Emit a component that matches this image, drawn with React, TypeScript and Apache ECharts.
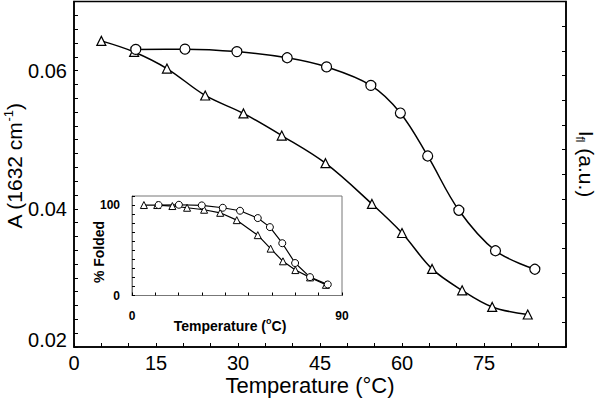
import React, { useEffect, useRef } from 'react';
import * as echarts from 'echarts';

// Main plot: triangles = absorbance (left axis), circles = fluorescence intensity (right axis)
const triTemp = [5, 11, 17, 24, 31, 38, 46, 54.5, 60, 65.5, 71, 76.5, 83];
const triAbs = [0.0643, 0.0627, 0.0603, 0.0564, 0.0538, 0.0506, 0.0466, 0.0407, 0.0365, 0.0313, 0.0282, 0.0258, 0.0247];
const circTemp = [11.3, 20.3, 29.8, 39, 46.2, 54.3, 59.7, 64.7, 70.4, 77.1, 84.3];
const circFl = [12.06, 12.07, 11.97, 11.72, 11.35, 10.6, 9.48, 7.74, 5.54, 3.9, 3.15];

// Inset: % folded
const insetTriTemp = [5.1, 10.8, 17.3, 23.6, 30.9, 37.8, 44.9, 53.9, 59.4, 64.7, 70, 76.3, 83.1];
const insetTriFolded = [100, 100, 98.9, 97, 94.8, 91.4, 83.3, 66.7, 51.8, 37.8, 28.1, 20, 11.8];
const insetCircTemp = [11.4, 20.1, 29.9, 38.9, 46.3, 53.9, 59.1, 64.4, 69.9, 76.3, 83.9];
const insetCircFolded = [100, 100.3, 99.6, 97, 93.7, 85.6, 75.6, 57.8, 35.9, 20.3, 12.2];

const mainXTickLabels = [0, 15, 30, 45, 60, 75];
const mainYTickLabels = [0.02, 0.04, 0.06];
const insetXTickLabels = [0, 90];
const insetYTickLabels = [0, 100];

const FONT = '"Liberation Sans", Arial, Helvetica, sans-serif';

const zip = (xs: number[], ys: number[]) => xs.map((x, i) => [x, ys[i]]);
const near = (v: number, list: number[]) => list.some((t) => Math.abs(v - t) < 1e-7);

export default function App() {
  const ref = useRef<HTMLDivElement>(null);

  useEffect(() => {
    if (!ref.current) return;
    const chart = echarts.init(ref.current, null, { renderer: 'svg' });

    const markerStyle = { color: '#fff', borderColor: '#000', borderWidth: 1.2 };

    chart.setOption({
      animation: false,
      backgroundColor: '#fff',
      grid: [
        { left: 74, right: 34, top: 1.5, bottom: 53, show: true, borderColor: '#000', borderWidth: 1.5, backgroundColor: 'transparent' },
        { left: 132, right: 258, top: 196, bottom: 104.5, show: true, borderColor: '#777', borderWidth: 1, backgroundColor: '#fff', z: 3 },
      ],
      xAxis: [
        {
          gridIndex: 0, type: 'value', min: 0, max: 90, interval: 5,
          axisLine: { lineStyle: { color: '#000', width: 1.5 } },
          axisTick: { inside: true, length: 4, lineStyle: { color: '#000', width: 1 } },
          axisLabel: {
            formatter: (v: number) => (near(v, mainXTickLabels) ? String(v) : ''),
            fontSize: 20, color: '#000', margin: 6, fontFamily: FONT,
          },
          splitLine: { show: false },
        },
        {
          gridIndex: 1, type: 'value', min: 0, max: 90, interval: 10, z: 4,
          axisLine: { lineStyle: { color: '#777', width: 1 } },
          axisTick: { inside: true, length: 3, lineStyle: { color: '#000', width: 1 } },
          axisLabel: {
            formatter: (v: number) => (near(v, insetXTickLabels) ? String(v) : ''),
            fontSize: 12, fontWeight: 'bold', color: '#000', margin: 14, fontFamily: FONT,
            showMinLabel: true, showMaxLabel: true,
          },
          splitLine: { show: false },
        },
      ],
      yAxis: [
        {
          gridIndex: 0, type: 'value', min: 0.02, max: 0.07, interval: 0.002, position: 'left',
          axisLine: { show: true, lineStyle: { color: '#000', width: 1.5 } },
          axisTick: { inside: true, length: 4, lineStyle: { color: '#000', width: 1 } },
          axisLabel: {
            formatter: (v: number) => {
              if (!near(v, mainYTickLabels)) return '';
              const s = v.toFixed(2);
              return Math.abs(v - 0.02) < 1e-7 ? '{low|' + s + '}' : s;
            },
            fontSize: 20, color: '#000', margin: 7, fontFamily: FONT,
            rich: { low: { fontSize: 20, color: '#000', fontFamily: FONT, padding: [0, 0, 14, 0] } },
          },
          splitLine: { show: false },
        },
        {
          gridIndex: 0, type: 'value', min: 0, max: 14, interval: 1, position: 'right',
          axisLine: { show: true, lineStyle: { color: '#000', width: 1.5 } },
          axisTick: { inside: true, length: 4, lineStyle: { color: '#000', width: 1 } },
          axisLabel: { show: false },
          splitLine: { show: false },
        },
        {
          gridIndex: 1, type: 'value', min: 0, max: 110, interval: 10, z: 4,
          axisLine: { show: true, lineStyle: { color: '#777', width: 1 } },
          axisTick: { inside: true, length: 3, lineStyle: { color: '#000', width: 1 } },
          axisLabel: {
            formatter: (v: number) => (near(v, insetYTickLabels) ? String(v) : ''),
            fontSize: 12, fontWeight: 'bold', color: '#000', margin: 12, fontFamily: FONT,
          },
          splitLine: { show: false },
        },
      ],
      series: [
        {
          type: 'line', xAxisIndex: 0, yAxisIndex: 0, data: zip(triTemp, triAbs),
          smooth: 0.35, symbol: 'triangle', symbolSize: 9,
          lineStyle: { color: '#000', width: 1.5 }, itemStyle: markerStyle,
        },
        {
          type: 'line', xAxisIndex: 0, yAxisIndex: 1, data: zip(circTemp, circFl),
          smooth: 0.35, symbol: 'circle', symbolSize: 10,
          lineStyle: { color: '#000', width: 1.5 }, itemStyle: markerStyle,
        },
        {
          type: 'line', xAxisIndex: 1, yAxisIndex: 2, data: zip(insetTriTemp, insetTriFolded), z: 5,
          symbol: 'triangle', symbolSize: 7,
          lineStyle: { color: '#000', width: 1.2 }, itemStyle: { color: '#fff', borderColor: '#000', borderWidth: 1 },
        },
        {
          type: 'line', xAxisIndex: 1, yAxisIndex: 2, data: zip(insetCircTemp, insetCircFolded), z: 5,
          symbol: 'circle', symbolSize: 7,
          lineStyle: { color: '#000', width: 1.2 }, itemStyle: { color: '#fff', borderColor: '#000', borderWidth: 1 },
        },
      ],
      graphic: [
        {
          type: 'text', x: 310, y: 385,
          style: { text: 'Temperature (°C)', fontSize: 22, fontFamily: FONT, fill: '#000', align: 'center', verticalAlign: 'middle' },
        },
        {
          type: 'text', x: 14, y: 166, rotation: Math.PI / 2,
          style: {
            text: '{a|A (1632 cm}{s|-1}{a|)}', align: 'center', verticalAlign: 'middle', fill: '#000',
            rich: {
              a: { fontSize: 21, fontFamily: FONT, fill: '#000', lineHeight: 24 },
              s: { fontSize: 13, fontFamily: FONT, fill: '#000', verticalAlign: 'top' },
            },
          },
        },
        {
          type: 'text', x: 586, y: 164, rotation: -Math.PI / 2,
          style: {
            text: '{a|I}{s|fl}{a| (a.u.)}', align: 'center', verticalAlign: 'middle', fill: '#000',
            rich: {
              a: { fontSize: 21, fontFamily: FONT, fill: '#000', lineHeight: 24 },
              s: { fontSize: 12, fontFamily: FONT, fill: '#000', verticalAlign: 'bottom' },
            },
          },
        },
        {
          type: 'text', x: 230, y: 326, z: 10,
          style: {
            text: '{b|Temperature (}{o|o}{b|C)}', align: 'center', verticalAlign: 'middle', fill: '#000',
            rich: {
              b: { fontSize: 14, fontWeight: 'bold', fontFamily: FONT, fill: '#000', lineHeight: 20 },
              o: { fontSize: 9, fontWeight: 'bold', fontFamily: FONT, fill: '#000', verticalAlign: 'top' },
            },
          },
        },
        {
          type: 'text', x: 99, y: 252, rotation: Math.PI / 2, z: 10,
          style: { text: '% Folded', fontSize: 14, fontWeight: 'bold', fontFamily: FONT, fill: '#000', align: 'center', verticalAlign: 'middle' },
        },
      ],
    });

    return () => chart.dispose();
  }, []);

  return <div ref={ref} style={{ width: 600, height: 400, position: 'absolute', left: 0, top: 0 }} />;
}
